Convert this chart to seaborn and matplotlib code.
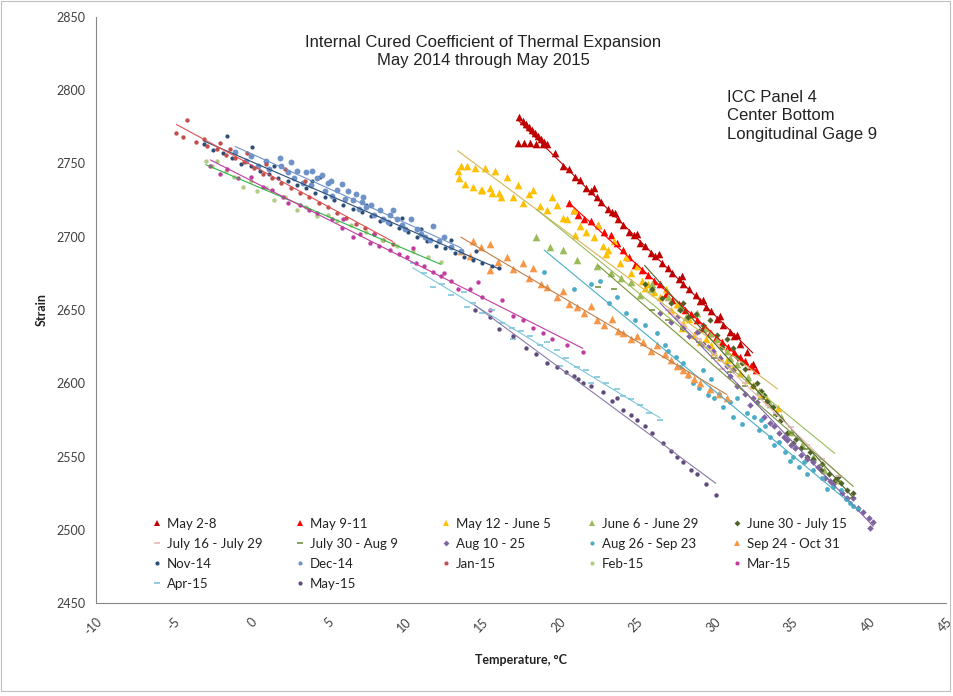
import matplotlib
matplotlib.use("Agg")
import matplotlib.pyplot as plt
import seaborn as sns
from matplotlib.lines import Line2D
from matplotlib.patches import Rectangle

# ---------------- data (temperature °C, strain) ----------------
may2_8_t = [17.4, 17.6, 17.8, 18.0, 18.2, 18.4, 18.6, 18.8, 19.0, 19.2, 17.3, 17.7, 18.1, 18.5, 18.9,
            19.7, 20.2, 20.6, 21.0, 21.3, 21.7, 22.0, 22.4, 22.7, 23.1, 23.4, 23.8, 24.1, 24.5, 24.8,
            25.2, 25.5, 25.9, 26.2, 26.6, 27.0, 27.3, 27.7, 28.0, 28.4, 28.8, 29.1, 29.5, 29.8, 30.2,
            30.6, 31.0, 31.3, 31.7, 32.1, 32.5, 22.2, 23.6, 25.0, 26.4, 27.9, 29.3, 30.4, 31.5]
may2_8_s = [2782, 2779, 2777, 2775, 2773, 2771, 2769, 2767, 2765, 2763, 2764, 2764, 2764, 2763.5, 2763,
            2757, 2748, 2746, 2741, 2739, 2733, 2731, 2727, 2724, 2719, 2717, 2712, 2708, 2703, 2701,
            2696, 2694, 2689, 2687, 2682, 2679, 2675, 2671, 2668, 2664, 2660, 2656, 2652, 2649, 2644,
            2640, 2635, 2632, 2627, 2621, 2613, 2733, 2716, 2702, 2688, 2673, 2657, 2646, 2633]

may9_11_t = [20.6, 20.9, 21.2, 21.6, 22.0, 22.5, 22.9, 23.3, 23.7, 24.1, 24.5, 24.9, 25.3, 25.7, 26.1,
             26.5, 26.9, 27.3, 27.7, 28.1, 28.5, 28.9, 29.3, 29.7, 30.1, 30.5, 30.9, 31.3, 31.7, 32.0,
             32.4, 32.7]
may9_11_s = [2723, 2718, 2715, 2712, 2711, 2708, 2703, 2701, 2696, 2691, 2686, 2681, 2677, 2674, 2670,
             2668, 2661, 2657, 2654, 2650, 2647, 2643, 2638, 2634, 2631, 2628, 2625, 2621, 2618, 2615,
             2612, 2609]

may12_jun5_t = [13.4, 13.6, 14.0, 14.5, 15.2, 15.8, 13.5, 13.9, 14.4, 15.0, 15.6, 16.2,
                14.9, 15.5, 16.1, 16.6, 17.0, 17.3, 17.6, 18.0, 18.3, 18.7, 19.2, 19.5, 19.8, 20.2,
                20.5, 20.9, 21.3, 21.7, 22.2, 22.5, 22.8, 23.1, 23.5, 23.9, 24.3, 24.6, 25.0, 25.3,
                25.7, 26.1, 26.5, 26.9, 27.2, 27.6, 28.0, 28.4, 28.7, 29.1, 29.5, 30.0, 30.4, 30.8,
                31.2, 31.7, 32.1, 32.5, 33.0, 33.4, 34.1, 21.0, 23.0, 25.5, 27.9, 29.8]
may12_jun5_s = [2745, 2748, 2748, 2747, 2747, 2745, 2740, 2736, 2734, 2732, 2730, 2727,
                2732, 2733, 2730, 2741, 2727, 2735, 2723, 2729, 2732, 2721, 2718, 2727, 2722, 2713,
                2712, 2718, 2707, 2703, 2700, 2708, 2694, 2691, 2697, 2682, 2686, 2675, 2680, 2670,
                2668, 2662, 2659, 2664, 2650, 2654, 2641, 2644, 2633, 2628, 2630, 2621, 2618, 2616,
                2611, 2607, 2602, 2599, 2593, 2589, 2583, 2701, 2688, 2665, 2638, 2626]

jun6_29_t = [18.5, 19.4, 20.2, 21.1, 22.4, 23.3, 24.6, 25.9, 27.0, 27.8, 28.9, 29.5, 30.2, 30.8, 31.5,
             32.2, 32.9, 33.6, 34.3, 35.0, 35.7, 36.4, 37.1, 37.8, 26.0, 28.2, 29.8, 31.0, 24.0, 25.2]
jun6_29_s = [2700, 2693, 2691, 2684, 2680, 2675, 2669, 2664, 2659, 2652, 2648, 2638, 2630, 2622, 2613,
             2604, 2595, 2586, 2577, 2567, 2558, 2550, 2541, 2534, 2668, 2645, 2634, 2617, 2672, 2660]

jun30_jul15_t = [25.5, 26.0, 26.6, 27.2, 27.8, 28.3, 28.8, 29.3, 29.7, 30.2, 30.8, 31.2, 31.5, 32.0, 32.5,
                 33.0, 33.4, 33.8, 34.3, 34.7, 35.1, 35.6, 36.0, 36.4, 36.9, 37.4, 37.8, 38.2, 38.6,
                 28.0, 29.0, 30.5, 31.8, 32.8, 34.0, 35.3, 36.2, 37.0, 38.0, 39.0, 33.2]
jun30_jul15_s = [2668, 2664, 2658, 2655, 2650, 2645, 2647, 2640, 2643, 2633, 2630, 2624, 2618, 2610, 2598,
                 2595, 2588, 2584, 2575, 2566, 2559, 2556, 2550, 2548, 2541, 2538, 2534, 2532, 2527,
                 2655, 2636, 2625, 2614, 2600, 2579, 2562, 2553, 2545, 2536, 2525, 2592]

jul16_29_t = [27.0, 28.0, 29.0, 30.0, 30.5, 31.0, 32.0, 33.0, 33.5, 34.0, 35.0, 36.0, 37.0, 38.0]
jul16_29_s = [2650, 2640, 2630, 2620, 2610, 2612, 2600, 2592, 2585, 2580, 2570, 2558, 2548, 2537]

jul30_aug9_t = [22.5, 23.5, 26.0, 27.0, 28.0, 29.0, 30.0, 31.0, 32.0, 33.0, 34.0, 35.0, 36.0, 37.0, 38.0, 39.0]
jul30_aug9_s = [2666, 2664, 2650, 2643, 2637, 2628, 2617, 2608, 2598, 2589, 2578, 2566, 2555, 2544, 2533, 2522]

aug10_25_t = [26.5, 27.2, 28.0, 28.4, 28.9, 29.3, 29.9, 30.4, 30.8, 31.2, 31.5, 32.0, 32.3, 32.8, 33.2,
              33.6, 34.2, 34.7, 35.2, 35.6, 36.0, 36.7, 37.2, 37.7, 38.3, 39.0, 39.6, 40.1, 40.3,
              27.6, 29.6, 31.0, 32.5, 33.9, 35.0, 36.4, 37.5, 38.6, 39.3, 40.0, 34.5]
aug10_25_s = [2648, 2642, 2638, 2632, 2635, 2627, 2622, 2617, 2612, 2609, 2598, 2593, 2585, 2587, 2577,
              2573, 2566, 2561, 2556, 2551, 2548, 2543, 2535, 2531, 2525, 2522, 2512, 2501, 2505,
              2645, 2625, 2605, 2590, 2571, 2558, 2546, 2533, 2522, 2515, 2508, 2563]

aug26_sep23_t = [19.0, 20.9, 22.0, 22.6, 23.2, 23.7, 24.3, 24.9, 25.5, 26.3, 27.0, 27.5, 28.0, 27.8, 28.6,
                 29.3, 29.8, 30.3, 31.0, 31.5, 32.1, 32.6, 33.0, 33.6, 34.2, 34.6, 35.1, 35.8, 36.4, 37.0,
                 37.7, 38.2, 38.8, 39.3, 31.2, 30.6, 29.6, 26.8, 28.3, 29.0, 30.0, 31.8, 32.9, 33.9,
                 34.9, 36.0, 37.3, 38.5, 39.0, 35.5, 33.3]
aug26_sep23_s = [2676, 2664, 2668, 2670, 2655, 2659, 2648, 2643, 2640, 2634, 2622, 2618, 2614, 2611, 2600,
                 2609, 2603, 2593, 2587, 2590, 2580, 2577, 2575, 2563, 2560, 2553, 2550, 2546, 2541, 2535,
                 2529, 2527, 2518, 2514, 2577, 2584, 2592, 2626, 2605, 2597, 2590, 2572, 2568, 2558,
                 2547, 2538, 2528, 2521, 2516, 2543, 2571]

sep24_oct31_t = [13.6, 14.2, 14.4, 14.9, 15.5, 15.5, 16.0, 16.6, 17.0, 17.6, 18.0, 18.3, 18.8, 19.2, 19.8,
                 20.2, 20.6, 21.1, 21.6, 22.0, 22.4, 22.9, 23.4, 23.8, 24.1, 24.6, 25.0, 25.4, 25.9, 26.3,
                 26.8, 27.2, 27.6, 28.0, 28.3, 28.7, 29.1, 29.7, 30.3, 30.8]
sep24_oct31_s = [2690, 2687, 2697, 2693, 2695, 2677, 2683, 2686, 2678, 2682, 2672, 2679, 2668, 2666, 2659,
                 2663, 2654, 2652, 2648, 2653, 2643, 2640, 2644, 2636, 2634, 2630, 2632, 2628, 2622, 2626,
                 2620, 2616, 2612, 2609, 2606, 2603, 2600, 2596, 2593, 2590]

nov14_t = [-3.0, -2.4, -1.8, -1.2, -0.6, 0.0, 0.6, 1.2, 1.8, 2.4, 3.0, 3.6, 4.2, 4.8, 5.4, 6.0, 6.6,
           7.2, 7.8, 8.4, 9.0, 9.6, 10.2, 10.8, 11.4, 12.0, 12.6, 13.2, 13.8, 14.4, 15.0, 15.6, 16.1,
           1.5, 4.0, 7.5, 9.8, 11.0, 13.0, 14.6, -1.5, 0.1, 1.9, 4.5]
nov14_s = [2763, 2759, 2757, 2754, 2750, 2748, 2745, 2743, 2740, 2738, 2735, 2733, 2730, 2727, 2725, 2722, 2719,
           2717, 2714, 2711, 2709, 2706, 2703, 2700, 2697, 2694, 2692, 2689, 2686, 2684, 2682, 2680, 2679,
           2748, 2738, 2722, 2713, 2705, 2698, 2690, 2769, 2761, 2754, 2741]

dec14_t = [-1.0, -0.3, 0.5, 1.2, 1.9, 2.4, 2.8, 3.4, 3.9, 4.3, 4.8, 5.3, 5.6, 6.1, 6.6, 7.0, 7.5,
           8.0, 8.4, 8.9, 9.5, 10.0, 10.8, 11.3, 11.8, 12.5, 3.0, 5.0, 7.2, 9.0,
           0.0, 1.0, 2.0, 2.6, 3.6, 4.0, 4.6, 5.2, 5.9, 6.3, 6.8, 7.3, 7.8, 8.6, 9.2, 9.8, 10.4, 11.0,
           11.6, 12.2, 13.0, 13.6]
dec14_s = [2758, 2752, 2748, 2746, 2754, 2744, 2740, 2737, 2735, 2740, 2731, 2728, 2732, 2726, 2725, 2719, 2720,
           2715, 2718, 2710, 2712, 2705, 2705, 2700, 2707, 2700, 2745, 2737, 2724, 2715,
           2755, 2752, 2748, 2751, 2744, 2745, 2742, 2738, 2736, 2731, 2729, 2727, 2722, 2712, 2718, 2708, 2712, 2702,
           2698, 2697, 2693, 2690]

jan15_t = [-4.8, -4.1, -4.4, -3.5, -2.8, -2.2, -1.6, -1.0, -0.4, 0.2, 0.8, 1.4, 2.0, 2.6, 3.2, 3.8,
           4.4, 5.0, 5.6, 6.2, 6.8, 7.4, 8.0, 8.6, 9.2, -1.3, -0.2, 1.0, 2.2, 3.5, -3.0, -2.0]
jan15_s = [2771, 2780, 2768, 2765, 2762, 2760, 2756, 2754, 2751, 2747, 2743, 2740, 2737, 2733, 2730, 2727,
           2723, 2720, 2716, 2713, 2709, 2706, 2702, 2698, 2695, 2760, 2757, 2750, 2746, 2738, 2767, 2764]

feb15_t = [-2.9, -2.5, -2.2, -1.6, -1.1, -0.5, 0.0, 0.4, 1.0, 1.5, 2.2, 3.0, 3.6, 4.3, 5.0, 5.6,
           6.5, 7.5, 8.5, 9.5, 10.5, 11.5, 12.3]
feb15_s = [2752, 2748, 2752, 2745, 2741, 2734, 2738, 2731, 2733, 2725, 2727, 2718, 2720, 2714, 2715, 2711,
           2708, 2703, 2698, 2694, 2690, 2686, 2683]

mar15_t = [-2.6, -2.0, -1.5, -0.8, 0.0, 0.8, 1.4, 2.1, 2.4, 3.2, 3.8, 4.3, 5.3, 5.9, 6.6, 7.1, 7.7,
           8.3, 9.0, 9.6, 10.1, 10.7, 11.2, 11.8, 12.3, 12.5, 13.0, 13.4, 14.2, 14.7, 15.0, 15.5, 16.3,
           17.0, 17.6, 18.3, 18.9, 19.5, 6.0, 8.0, 10.5, 20.5, 21.5]
mar15_s = [2748, 2743, 2746, 2740, 2741, 2734, 2732, 2727, 2723, 2722, 2718, 2716, 2712, 2706, 2700, 2702, 2696,
           2694, 2691, 2688, 2686, 2682, 2680, 2676, 2673, 2675, 2670, 2664, 2664, 2669, 2659, 2650, 2657,
           2646, 2643, 2638, 2634, 2630, 2712, 2702, 2692, 2626, 2621]

apr15_t = [10.5, 11.2, 11.8, 12.4, 13.0, 13.8, 14.4, 15.0, 15.6, 16.3, 16.9, 17.5, 18.1, 18.7, 19.2,
           19.8, 20.4, 21.1, 21.7, 22.4, 23.0, 23.7, 24.1, 24.6, 25.2, 25.8, 26.5, 14.0, 17.0, 20.0, 22.0]
apr15_s = [2682, 2675, 2666, 2668, 2660, 2662, 2655, 2648, 2650, 2641, 2638, 2636, 2632, 2626, 2628,
           2623, 2617, 2611, 2609, 2604, 2600, 2596, 2591, 2589, 2585, 2580, 2575, 2652, 2630, 2612, 2600]

may15_t = [14.5, 15.5, 16.1, 17.0, 17.8, 18.5, 19.2, 19.8, 20.4, 20.9, 21.5, 22.0, 22.8, 23.4, 24.1,
           24.6, 25.0, 25.5, 26.0, 26.7, 27.2, 27.6, 28.0, 28.5, 28.9, 29.5, 30.1, 23.7, 21.2]
may15_s = [2650, 2645, 2637, 2632, 2624, 2620, 2614, 2611, 2608, 2605, 2600, 2598, 2594, 2588, 2582,
           2578, 2575, 2571, 2566, 2559, 2554, 2550, 2546, 2541, 2538, 2531, 2524, 2590, 2603]

series_labels = ["May 2-8", "May 9-11", "May 12 - June 5", "June 6 - June 29", "June 30 - July 15",
                 "July 16 - July 29", "July 30 - Aug 9", "Aug 10 - 25", "Aug 26 - Sep 23", "Sep 24 - Oct 31",
                 "Nov-14", "Dec-14", "Jan-15", "Feb-15", "Mar-15", "Apr-15", "May-15"]
series_data = [(may2_8_t, may2_8_s), (may9_11_t, may9_11_s), (may12_jun5_t, may12_jun5_s),
               (jun6_29_t, jun6_29_s), (jun30_jul15_t, jun30_jul15_s), (jul16_29_t, jul16_29_s),
               (jul30_aug9_t, jul30_aug9_s), (aug10_25_t, aug10_25_s), (aug26_sep23_t, aug26_sep23_s),
               (sep24_oct31_t, sep24_oct31_s), (nov14_t, nov14_s), (dec14_t, dec14_s), (jan15_t, jan15_s),
               (feb15_t, feb15_s), (mar15_t, mar15_s), (apr15_t, apr15_s), (may15_t, may15_s)]

# ---------------- styles ----------------
colors = ["#C00000", "#FF0000", "#FFC000", "#9BBB59", "#4F6228", "#E6B9B8", "#77933C", "#8064A2",
          "#4BACC6", "#F79646", "#2C4D75", "#6F93C8", "#C0504D", "#B0CB83", "#C03C9F", "#7FC6DA", "#604A7B"]
trend_colors = ["#C00000", "#FF0000", "#D6B656", "#9BBB59", "#4F6228", "#E6B9B8", "#77933C", "#8064A2",
                "#4BACC6", "#C0804A", "#2C4D75", "#6F93C8", "#E05050", "#33B34A", "#C03C9F", "#7FC6DA", "#8A7AA8"]
markers = ["^", "^", "^", "^", "D", "_", "_", "D", "o", "^", "o", "o", "o", "o", "o", "_", "o"]
sizes = [30, 30, 30, 30, 10, 16, 16, 11, 12, 30, 9, 18, 10, 10, 10, 16, 10]

sns.set_style("white")
plt.rcParams["axes.unicode_minus"] = False
plt.rcParams["font.family"] = ["Lato", "DejaVu Sans"]

fig = plt.figure(figsize=(9.54, 6.96), dpi=100)
W, H = 954, 696
ax = fig.add_axes([96 / W, 1 - 603 / H, (946 - 96) / W, (603 - 17) / H])

for (t, s), c, m, sz in zip(series_data, colors, markers, sizes):
    if m == "_":
        sns.scatterplot(x=t, y=s, ax=ax, marker=m, s=sz, color=c, linewidth=1.2, legend=False)
    else:
        sns.scatterplot(x=t, y=s, ax=ax, marker=m, s=sz, color=c, linewidth=0, legend=False)

for (t, s), c in zip(series_data, trend_colors):
    sns.regplot(x=t, y=s, ax=ax, scatter=False, ci=None, truncate=True,
                line_kws={"color": c, "lw": 0.8})

ax.set_xlim(-10, 45)
ax.set_ylim(2450, 2850)
ax.set_xticks(list(range(-10, 46, 5)))
ax.set_yticks(list(range(2450, 2851, 50)))
for sp in ["top", "right"]:
    ax.spines[sp].set_visible(False)
for sp in ["left", "bottom"]:
    ax.spines[sp].set_color("#868686")
    ax.spines[sp].set_linewidth(0.8)
ax.tick_params(axis="both", direction="out", length=4, width=0.8, color="#868686",
               labelsize=9, labelcolor="#404040")
ax.tick_params(axis="x", direction="inout", length=8, pad=5)
for lab in ax.get_xticklabels():
    lab.set_rotation(45)
    lab.set_ha("right")
    lab.set_va("top")
    lab.set_rotation_mode("anchor")

ax.set_xlabel("Temperature, °C", fontsize=9, fontweight="bold", color="#222222", labelpad=12)
ax.set_ylabel("Strain", fontsize=9, fontweight="bold", color="#222222", labelpad=6)

fig.text(483 / W, 1 - 42 / H, "Internal Cured Coefficient of Thermal Expansion",
         ha="center", va="center", fontsize=12, family=["Liberation Sans"], color="#222222")
fig.text(483 / W, 1 - 60 / H, "May 2014 through May 2015",
         ha="center", va="center", fontsize=12, family=["Liberation Sans"], color="#222222")
for i, line in enumerate(["ICC Panel 4", "Center Bottom", "Longitudinal Gage 9"]):
    fig.text(727 / W, 1 - (97 + 19 * i) / H, line, ha="left", va="center",
             fontsize=12, family=["Liberation Sans"], color="#222222")

# legend: 5 columns, column-major order
col_x = [152, 295, 441, 587, 732]
columns = [[0, 5, 10, 15], [1, 6, 11, 16], [2, 7, 12], [3, 8, 13], [4, 9, 14]]
msz = {"^": 4, "D": 3, "_": 5, "s": 3, "o": 3}
legs = []
for cx, idxs in zip(col_x, columns):
    handles = [Line2D([], [], linestyle="None", marker=markers[i], color=colors[i],
                      markersize=msz[markers[i]], markeredgewidth=(1.2 if markers[i] == "_" else 0))
               for i in idxs]
    labels = [series_labels[i] for i in idxs]
    leg = ax.legend(handles, labels, loc="upper left", bbox_to_anchor=(cx / W, 1 - 518 / H),
                    bbox_transform=fig.transFigure, frameon=False, fontsize=9.5, borderpad=0,
                    borderaxespad=0, handlelength=0.8, handletextpad=0.35, labelspacing=0.6)
    for txt in leg.get_texts():
        txt.set_color("#222222")
    legs.append(leg)
for leg in legs[:-1]:
    ax.add_artist(leg)

fig.patches.append(Rectangle((1 / W, 5 / H), 949 / W, 690 / H, transform=fig.transFigure,
                             fill=False, edgecolor="#BFBFBF", linewidth=0.8))

fig.savefig("out.png", dpi=100)
